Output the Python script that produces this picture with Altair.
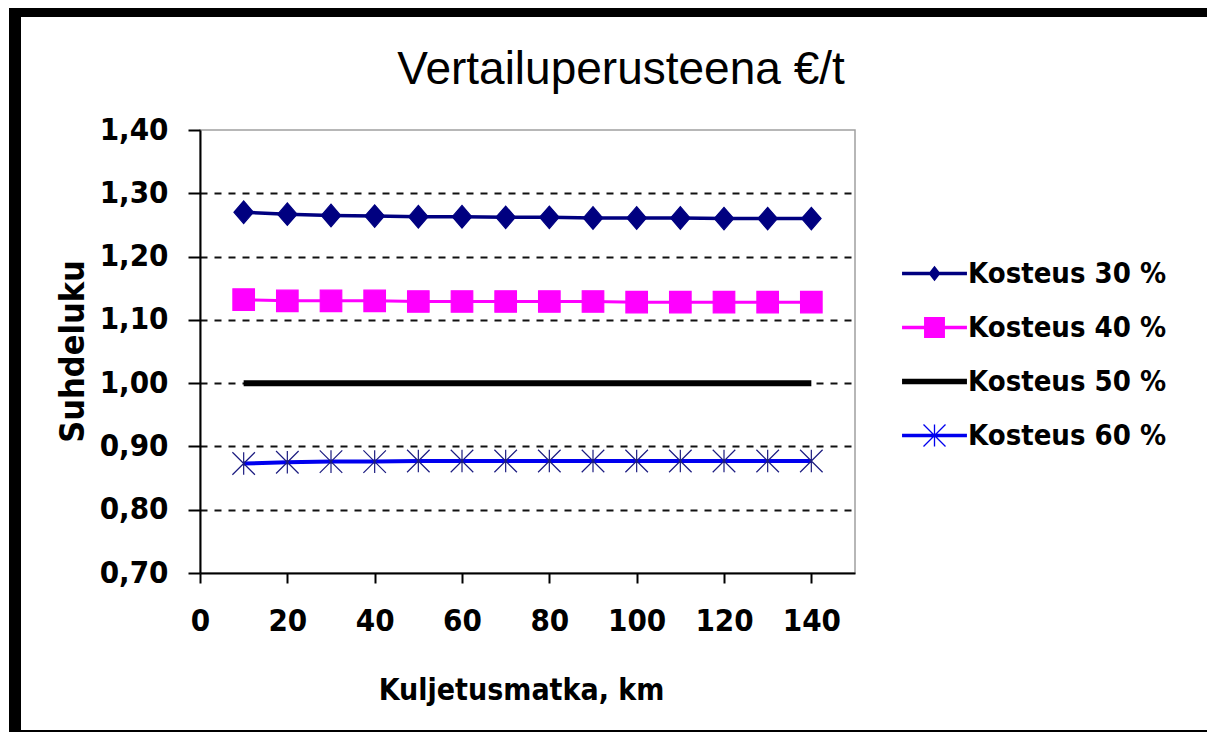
import math
import altair as alt
import pandas as pd

# ---------------- data ----------------
distances = [10, 20, 30, 40, 50, 60, 70, 80, 90, 100, 110, 120, 130, 140]
series_names = ["Kosteus 30 %", "Kosteus 40 %", "Kosteus 50 %", "Kosteus 60 %"]
moist30 = [1.270, 1.267, 1.265, 1.264, 1.263, 1.263, 1.262, 1.262, 1.261, 1.261, 1.261, 1.260, 1.260, 1.260]
moist40 = [1.132, 1.130, 1.130, 1.130, 1.129, 1.129, 1.129, 1.129, 1.129, 1.128, 1.128, 1.128, 1.128, 1.128]
moist50 = [1.000, 1.000, 1.000, 1.000, 1.000, 1.000, 1.000, 1.000, 1.000, 1.000, 1.000, 1.000, 1.000, 1.000]
moist60 = [0.873, 0.875, 0.876, 0.876, 0.877, 0.877, 0.877, 0.877, 0.877, 0.877, 0.877, 0.877, 0.877, 0.877]
x_ticks = [0, 20, 40, 60, 80, 100, 120, 140]
y_ticks = [0.70, 0.80, 0.90, 1.00, 1.10, 1.20, 1.30, 1.40]

title_text = "Vertailuperusteena €/t"
x_title = "Kuljetusmatka, km"
y_title = "Suhdeluku"

# ---------------- styles ----------------
line_colors = ["#000080", "#ff00ff", "#000000", "#0000ee"]
line_widths = [3.5, 3, 6, 4]
marker_fill = ["#000080", "#ff00ff", "transparent", "transparent"]
marker_stroke = ["#000080", "#ff00ff", "#000000", "#1c1c80"]

NARROW = "Liberation Sans Narrow, DejaVu Sans Condensed, Arial Narrow, sans-serif"
REG = "Liberation Sans, Arial, sans-serif"
LBL = 31


def seg(x1, y1, x2, y2, h):
    dx, dy = x2 - x1, y2 - y1
    L = math.hypot(dx, dy)
    nx, ny = -dy / L * h, dx / L * h
    pts = [(x1 + nx, y1 + ny), (x2 + nx, y2 + ny), (x2 - nx, y2 - ny), (x1 - nx, y1 - ny)]
    area = sum(pts[i][0] * pts[(i + 1) % 4][1] - pts[(i + 1) % 4][0] * pts[i][1] for i in range(4))
    if area < 0:
        pts = pts[::-1]
    return "M" + "L".join(f"{x:.3f},{y:.3f}" for x, y in pts) + "Z"


def diamond(w, h):
    return f"M0,{-h}L{w},0L0,{h}L{-w},0Z"


def square(a):
    return f"M{-a},{-a}H{a}V{a}H{-a}Z"


# plot markers (unit = sqrt(size)/2 px)
plot_shapes = [
    diamond(0.95, 1.1),
    square(1.05),
    "M0,0",
    "M-1.1,-1.1L1.1,1.1M-1.1,1.1L1.1,-1.1M0,-1.1L0,1.1",
]

# legend symbols: line + marker, unit = 11 px
HL = 2.95
legend_shapes = [
    seg(-HL, 0, HL, 0, 0.15) + diamond(0.55, 0.7),
    seg(-HL, 0, HL, 0, 0.15) + square(0.95),
    seg(-HL, 0, HL, 0, 0.26),
    seg(-HL, 0, HL, 0, 0.16) + seg(-1, -1, 1, 1, 0.06) + seg(-1, 1, 1, -1, 0.06) + seg(0, -1, 0, 1, 0.06),
]
legend_fill = ["#000080", "#ff00ff", "#000000", "#0000ee"]

rows = []
for name, vals in zip(series_names, [moist30, moist40, moist50, moist60]):
    for d, v in zip(distances, vals):
        rows.append({"km": d, "value": v, "series": name})
df = pd.DataFrame(rows)

x_enc = alt.X(
    "km:Q",
    scale=alt.Scale(domain=[0, 150], nice=False, zero=False),
    axis=alt.Axis(
        values=x_ticks, title=x_title, grid=False,
        domainColor="black", domainWidth=2, tickColor="black", tickWidth=2, tickSize=10,
        labelFont=NARROW, labelFontSize=LBL, labelFontWeight="bold", labelColor="black",
        labelPadding=23, labelFlush=False,
        titleFont=NARROW, titleFontSize=30, titleFontWeight="bold", titleColor="black",
        titleX=321, titleY=126, titleBaseline="alphabetic", titleAlign="center",
    ),
)
y_enc = alt.Y(
    "value:Q",
    scale=alt.Scale(domain=[0.70, 1.40], nice=False, zero=False),
    axis=alt.Axis(
        values=y_ticks, title=y_title,
        labelExpr="replace(format(datum.value, '.2f'), '.', ',')",
        grid=True, gridDash=[7, 7], gridWidth=2,
        gridColor={"condition": {"test": "datum.value > 1.35 || datum.value < 0.75", "value": "transparent"}, "value": "#111111"},
        domainColor="black", domainWidth=2, tickColor="black", tickWidth=2, tickSize=12,
        labelFont=NARROW, labelFontSize=LBL, labelFontWeight="bold", labelColor="black",
        labelPadding=20, labelFlush=False,
        titleFont=NARROW, titleFontSize=34, titleFontWeight="bold", titleColor="black",
        titleX=-127, titleY=221, titleAngle=270, titleBaseline="middle", titleAlign="center",
    ),
)

frame = alt.Chart(pd.DataFrame({"a": [0]})).mark_rect(
    fill="transparent", stroke="black", strokeWidth=12
).encode(
    x=alt.value(-185), x2=alt.value(1045), y=alt.value(-119), y2=alt.value(606)
)

title = alt.Chart(pd.DataFrame({"t": [title_text]})).mark_text(
    font=REG, fontSize=46, color="black", align="center", baseline="alphabetic"
).encode(
    text="t:N", x=alt.value(421), y=alt.value(-46)
)

color_enc = alt.Color("series:N", scale=alt.Scale(domain=series_names, range=line_colors), legend=None)

line_layers = []
for name, w in zip(series_names, line_widths):
    line_layers.append(
        alt.Chart(df).transform_filter(alt.datum.series == name).mark_line(strokeWidth=w).encode(
            x=x_enc, y=y_enc, color=color_enc
        )
    )

points = alt.Chart(df).transform_filter(
    alt.datum.series != "Kosteus 50 %"
).mark_point(filled=True, opacity=1, size=420, strokeWidth=1.2).encode(
    x=x_enc,
    y=y_enc,
    shape=alt.Shape("series:N", scale=alt.Scale(domain=series_names, range=plot_shapes), legend=None),
    fill=alt.Fill("series:N", scale=alt.Scale(domain=series_names, range=marker_fill), legend=None),
    stroke=alt.Stroke("series:N", scale=alt.Scale(domain=series_names, range=marker_stroke), legend=None),
)

legend_layer = alt.Chart(df).transform_filter("false").mark_point(
    filled=True, opacity=1, size=484, strokeWidth=0
).encode(
    x=x_enc,
    y=y_enc,
    shape=alt.Shape("series:N", scale=alt.Scale(domain=series_names, range=legend_shapes), legend=alt.Legend(title=None)),
    fill=alt.Fill(
        "series:N", scale=alt.Scale(domain=series_names, range=legend_fill),
        legend=alt.Legend(
            title=None, orient="none", legendX=720, legendY=129, direction="vertical",
            symbolSize=484, symbolStrokeWidth=0, symbolOpacity=1,
            labelFont=NARROW, labelFontSize=29, labelFontWeight="bold", labelColor="black",
            labelOffset=19, rowPadding=24, padding=0, labelLimit=400,
        ),
    ),
)

chart = alt.layer(frame, title, *line_layers, points, legend_layer).resolve_scale(
    shape="independent", fill="independent"
).properties(
    width=655,
    height=443,
    padding={"left": 192, "top": 122, "right": 352, "bottom": 159},
    autosize=alt.AutoSizeParams(type="none"),
    background="white",
).configure_view(
    stroke="#a0a0a0", strokeWidth=1.5, fill="white"
)

chart.save("out.html", embed_options={"renderer": "svg", "actions": False})
